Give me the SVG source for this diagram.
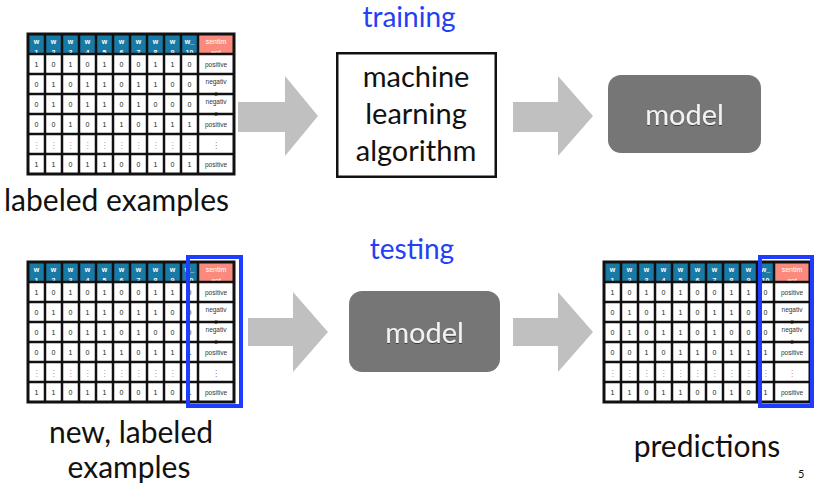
<svg xmlns="http://www.w3.org/2000/svg" width="816" height="488" viewBox="0 0 816 488">
<style>
.bg{fill:#fff}
.hdb{fill:#1a7aa6}
.hds{fill:#f98a7d}
.hd{font-family:"Liberation Sans",Arial,sans-serif;font-size:7px;font-weight:bold;fill:#fff;text-anchor:middle}
.c{font-family:"Liberation Sans",Arial,sans-serif;font-size:7px;fill:#222;text-anchor:middle}
.s{font-family:"Liberation Sans",Arial,sans-serif;font-size:6.5px;fill:#333;text-anchor:middle}
.d{font-family:"DejaVu Sans",sans-serif;font-size:8px;text-anchor:middle;fill:#9a9a9a}
.grid{fill:none;stroke:#111;stroke-width:2.5}
.frame{fill:none;stroke:#111;stroke-width:3}
.lbl{font-family:Lato,"Open Sans",sans-serif;font-size:30px;fill:#111;text-anchor:middle}
.ml{font-family:Lato,"Open Sans",sans-serif;font-size:29px;fill:#111;text-anchor:middle}
.title{font-family:Lato,"Open Sans",sans-serif;font-size:28px;fill:#2340f5;text-anchor:middle}
.arrow{fill:#c0c0c0}
.mbox{fill:#767676}
.mtxt{font-family:Lato,"Open Sans",sans-serif;font-size:29px;fill:#f2f2f2;text-anchor:middle}
.hl{fill:none;stroke:#1f3cff;stroke-width:4}
</style>
<defs>
<filter id="sh" x="-10%" y="-10%" width="120%" height="130%"><feDropShadow dx="0" dy="1" stdDeviation="0.6" flood-color="#000" flood-opacity="0.5"/></filter>
</defs>

<g id="connectors">
<polygon class="arrow" points="238,102 285,102 285,76 318,116 285,156 285,132 238,132"/>
<polygon class="arrow" points="513,102 558,102 558,76 593,116 558,156 558,132 513,132"/>
<polygon class="arrow" points="248,318 293,318 293,292 328,332 293,372 293,346 248,346"/>
<polygon class="arrow" points="513,318 558,318 558,292 593,332 558,372 558,346 513,346"/>
</g>

<g id="training-label"><text class="title" x="409" y="27">training</text></g>
<g id="testing-label"><text class="title" x="412" y="259">testing</text></g>

<g id="labeled-examples">
<rect class="bg" x="28" y="34" width="206" height="140"/>
<rect class="hdb" x="28" y="34" width="170" height="20"/>
<rect class="hds" x="198" y="34" width="36" height="20"/>
<text class="hd" y="44"><tspan x="36.5">w</tspan><tspan x="53.5">w</tspan><tspan x="70.5">w</tspan><tspan x="87.5">w</tspan><tspan x="104.5">w</tspan><tspan x="121.5">w</tspan><tspan x="138.5">w</tspan><tspan x="155.5">w</tspan><tspan x="172.5">w</tspan><tspan x="189.5">w_</tspan></text>
<text class="hd" y="55"><tspan x="36.5">1</tspan><tspan x="53.5">2</tspan><tspan x="70.5">3</tspan><tspan x="87.5">4</tspan><tspan x="104.5">5</tspan><tspan x="121.5">6</tspan><tspan x="138.5">7</tspan><tspan x="155.5">8</tspan><tspan x="172.5">9</tspan><tspan x="189.5">10</tspan></text>
<text class="hd" style="font-weight:normal" x="216" y="44">sentim</text>
<text class="hd" style="font-weight:normal" x="216" y="54.5">ent</text>
<text class="c" y="66.5"><tspan x="36.5">1</tspan><tspan x="53.5">0</tspan><tspan x="70.5">1</tspan><tspan x="87.5">0</tspan><tspan x="104.5">1</tspan><tspan x="121.5">0</tspan><tspan x="138.5">0</tspan><tspan x="155.5">1</tspan><tspan x="172.5">1</tspan><tspan x="189.5">0</tspan></text>
<text class="c" y="86.5"><tspan x="36.5">0</tspan><tspan x="53.5">1</tspan><tspan x="70.5">0</tspan><tspan x="87.5">1</tspan><tspan x="104.5">1</tspan><tspan x="121.5">0</tspan><tspan x="138.5">1</tspan><tspan x="155.5">1</tspan><tspan x="172.5">0</tspan><tspan x="189.5">0</tspan></text>
<text class="c" y="106.5"><tspan x="36.5">0</tspan><tspan x="53.5">1</tspan><tspan x="70.5">0</tspan><tspan x="87.5">1</tspan><tspan x="104.5">1</tspan><tspan x="121.5">0</tspan><tspan x="138.5">1</tspan><tspan x="155.5">0</tspan><tspan x="172.5">0</tspan><tspan x="189.5">0</tspan></text>
<text class="c" y="126.5"><tspan x="36.5">0</tspan><tspan x="53.5">0</tspan><tspan x="70.5">1</tspan><tspan x="87.5">0</tspan><tspan x="104.5">1</tspan><tspan x="121.5">1</tspan><tspan x="138.5">0</tspan><tspan x="155.5">1</tspan><tspan x="172.5">1</tspan><tspan x="189.5">1</tspan></text>
<text class="d" y="147.5"><tspan x="36.5">⋮</tspan><tspan x="53.5" fill="#8a95c8">⋮</tspan><tspan x="70.5" fill="#d98080">⋮</tspan><tspan x="87.5">⋮</tspan><tspan x="104.5">⋮</tspan><tspan x="121.5">⋮</tspan><tspan x="138.5" fill="#8a95c8">⋮</tspan><tspan x="155.5">⋮</tspan><tspan x="172.5">⋮</tspan><tspan x="189.5" fill="#d98080">⋮</tspan><tspan x="216" fill="#777">⋮</tspan></text>
<text class="c" y="166.5"><tspan x="36.5">1</tspan><tspan x="53.5">1</tspan><tspan x="70.5">0</tspan><tspan x="87.5">1</tspan><tspan x="104.5">1</tspan><tspan x="121.5">0</tspan><tspan x="138.5">0</tspan><tspan x="155.5">1</tspan><tspan x="172.5">0</tspan><tspan x="189.5">1</tspan></text>
<text class="s" x="216" y="66.5">positive</text>
<text class="s" x="216" y="83.5">negativ</text>
<text class="s" x="216" y="95.5">e</text>
<text class="s" x="216" y="103.5">negativ</text>
<text class="s" x="216" y="115.5">e</text>
<text class="s" x="216" y="126.5">positive</text>
<text class="s" x="216" y="166.5">positive</text>
<path class="grid" d="M45 34V174M62 34V174M79 34V174M96 34V174M113 34V174M130 34V174M147 34V174M164 34V174M181 34V174M198 34V174M28 54H234M28 74H234M28 94H234M28 114H234M28 134H234M28 154H234"/>
<rect class="frame" x="28" y="34" width="206" height="140"/>
<text class="lbl" x="116.5" y="211">labeled examples</text>
</g>

<g id="ml-algorithm">
<rect x="337.25" y="53.25" width="158.5" height="123.5" fill="#fff" stroke="#111" stroke-width="2.5"/>
<text class="ml" x="416" y="87">machine</text>
<text class="ml" x="416" y="124">learning</text>
<text class="ml" x="416" y="161">algorithm</text>
</g>

<g id="model-train">
<rect class="mbox" x="608" y="75" width="153" height="78" rx="13"/>
<text class="mtxt" x="684.5" y="125" filter="url(#sh)">model</text>
</g>

<g id="new-examples">
<rect class="bg" x="28" y="262" width="206" height="140"/>
<rect class="hdb" x="28" y="262" width="170" height="20"/>
<rect class="hds" x="198" y="262" width="36" height="20"/>
<text class="hd" y="272"><tspan x="36.5">w</tspan><tspan x="53.5">w</tspan><tspan x="70.5">w</tspan><tspan x="87.5">w</tspan><tspan x="104.5">w</tspan><tspan x="121.5">w</tspan><tspan x="138.5">w</tspan><tspan x="155.5">w</tspan><tspan x="172.5">w</tspan><tspan x="189.5">w_</tspan></text>
<text class="hd" y="283"><tspan x="36.5">1</tspan><tspan x="53.5">2</tspan><tspan x="70.5">3</tspan><tspan x="87.5">4</tspan><tspan x="104.5">5</tspan><tspan x="121.5">6</tspan><tspan x="138.5">7</tspan><tspan x="155.5">8</tspan><tspan x="172.5">9</tspan><tspan x="189.5">10</tspan></text>
<text class="hd" style="font-weight:normal" x="216" y="272">sentim</text>
<text class="hd" style="font-weight:normal" x="216" y="282.5">ent</text>
<text class="c" y="294.5"><tspan x="36.5">1</tspan><tspan x="53.5">0</tspan><tspan x="70.5">1</tspan><tspan x="87.5">0</tspan><tspan x="104.5">1</tspan><tspan x="121.5">0</tspan><tspan x="138.5">0</tspan><tspan x="155.5">1</tspan><tspan x="172.5">1</tspan><tspan x="189.5">0</tspan></text>
<text class="c" y="314.5"><tspan x="36.5">0</tspan><tspan x="53.5">1</tspan><tspan x="70.5">0</tspan><tspan x="87.5">1</tspan><tspan x="104.5">1</tspan><tspan x="121.5">0</tspan><tspan x="138.5">1</tspan><tspan x="155.5">1</tspan><tspan x="172.5">0</tspan><tspan x="189.5">0</tspan></text>
<text class="c" y="334.5"><tspan x="36.5">0</tspan><tspan x="53.5">1</tspan><tspan x="70.5">0</tspan><tspan x="87.5">1</tspan><tspan x="104.5">1</tspan><tspan x="121.5">0</tspan><tspan x="138.5">1</tspan><tspan x="155.5">0</tspan><tspan x="172.5">0</tspan><tspan x="189.5">0</tspan></text>
<text class="c" y="354.5"><tspan x="36.5">0</tspan><tspan x="53.5">0</tspan><tspan x="70.5">1</tspan><tspan x="87.5">0</tspan><tspan x="104.5">1</tspan><tspan x="121.5">1</tspan><tspan x="138.5">0</tspan><tspan x="155.5">1</tspan><tspan x="172.5">1</tspan><tspan x="189.5">1</tspan></text>
<text class="d" y="375.5"><tspan x="36.5">⋮</tspan><tspan x="53.5" fill="#8a95c8">⋮</tspan><tspan x="70.5" fill="#d98080">⋮</tspan><tspan x="87.5">⋮</tspan><tspan x="104.5">⋮</tspan><tspan x="121.5">⋮</tspan><tspan x="138.5" fill="#8a95c8">⋮</tspan><tspan x="155.5">⋮</tspan><tspan x="172.5">⋮</tspan><tspan x="189.5" fill="#8a95c8">⋮</tspan><tspan x="216" fill="#777">⋮</tspan></text>
<text class="c" y="394.5"><tspan x="36.5">1</tspan><tspan x="53.5">1</tspan><tspan x="70.5">0</tspan><tspan x="87.5">1</tspan><tspan x="104.5">1</tspan><tspan x="121.5">0</tspan><tspan x="138.5">0</tspan><tspan x="155.5">1</tspan><tspan x="172.5">0</tspan><tspan x="189.5">1</tspan></text>
<text class="s" x="216" y="294.5">positive</text>
<text class="s" x="216" y="311.5">negativ</text>
<text class="s" x="216" y="323.5">e</text>
<text class="s" x="216" y="331.5">negativ</text>
<text class="s" x="216" y="343.5">e</text>
<text class="s" x="216" y="354.5">positive</text>
<text class="s" x="216" y="394.5">positive</text>
<path class="grid" d="M45 262V402M62 262V402M79 262V402M96 262V402M113 262V402M130 262V402M147 262V402M164 262V402M181 262V402M198 262V402M28 282H234M28 302H234M28 322H234M28 342H234M28 362H234M28 382H234"/>
<rect class="frame" x="28" y="262" width="206" height="140"/>
<rect class="hl" x="188" y="257" width="53" height="149"/>
<text class="lbl" x="131" y="443">new, labeled</text>
<text class="lbl" x="129" y="478">examples</text>
</g>

<g id="model-test">
<rect class="mbox" x="349" y="291" width="151" height="81" rx="13"/>
<text class="mtxt" x="424.5" y="343" filter="url(#sh)">model</text>
</g>

<g id="predictions">
<rect class="bg" x="604" y="262" width="206" height="140"/>
<rect class="hdb" x="604" y="262" width="170" height="20"/>
<rect class="hds" x="774" y="262" width="36" height="20"/>
<text class="hd" y="272"><tspan x="612.5">w</tspan><tspan x="629.5">w</tspan><tspan x="646.5">w</tspan><tspan x="663.5">w</tspan><tspan x="680.5">w</tspan><tspan x="697.5">w</tspan><tspan x="714.5">w</tspan><tspan x="731.5">w</tspan><tspan x="748.5">w</tspan><tspan x="765.5">w_</tspan></text>
<text class="hd" y="283"><tspan x="612.5">1</tspan><tspan x="629.5">2</tspan><tspan x="646.5">3</tspan><tspan x="663.5">4</tspan><tspan x="680.5">5</tspan><tspan x="697.5">6</tspan><tspan x="714.5">7</tspan><tspan x="731.5">8</tspan><tspan x="748.5">9</tspan><tspan x="765.5">10</tspan></text>
<text class="hd" style="font-weight:normal" x="792" y="272">sentim</text>
<text class="hd" style="font-weight:normal" x="792" y="282.5">ent</text>
<text class="c" y="294.5"><tspan x="612.5">1</tspan><tspan x="629.5">0</tspan><tspan x="646.5">1</tspan><tspan x="663.5">0</tspan><tspan x="680.5">1</tspan><tspan x="697.5">0</tspan><tspan x="714.5">0</tspan><tspan x="731.5">1</tspan><tspan x="748.5">1</tspan><tspan x="765.5">0</tspan></text>
<text class="c" y="314.5"><tspan x="612.5">0</tspan><tspan x="629.5">1</tspan><tspan x="646.5">0</tspan><tspan x="663.5">1</tspan><tspan x="680.5">1</tspan><tspan x="697.5">0</tspan><tspan x="714.5">1</tspan><tspan x="731.5">1</tspan><tspan x="748.5">0</tspan><tspan x="765.5">0</tspan></text>
<text class="c" y="334.5"><tspan x="612.5">0</tspan><tspan x="629.5">1</tspan><tspan x="646.5">0</tspan><tspan x="663.5">1</tspan><tspan x="680.5">1</tspan><tspan x="697.5">0</tspan><tspan x="714.5">1</tspan><tspan x="731.5">0</tspan><tspan x="748.5">0</tspan><tspan x="765.5">0</tspan></text>
<text class="c" y="354.5"><tspan x="612.5">0</tspan><tspan x="629.5">0</tspan><tspan x="646.5">1</tspan><tspan x="663.5">0</tspan><tspan x="680.5">1</tspan><tspan x="697.5">1</tspan><tspan x="714.5">0</tspan><tspan x="731.5">1</tspan><tspan x="748.5">1</tspan><tspan x="765.5">1</tspan></text>
<text class="d" y="375.5"><tspan x="612.5">⋮</tspan><tspan x="629.5">⋮</tspan><tspan x="646.5" fill="#8a95c8">⋮</tspan><tspan x="663.5">⋮</tspan><tspan x="680.5">⋮</tspan><tspan x="697.5" fill="#d98080">⋮</tspan><tspan x="714.5">⋮</tspan><tspan x="731.5" fill="#8a95c8">⋮</tspan><tspan x="748.5">⋮</tspan><tspan x="765.5">⋮</tspan><tspan x="792" fill="#d98080">⋮</tspan></text>
<text class="c" y="394.5"><tspan x="612.5">1</tspan><tspan x="629.5">1</tspan><tspan x="646.5">0</tspan><tspan x="663.5">1</tspan><tspan x="680.5">1</tspan><tspan x="697.5">0</tspan><tspan x="714.5">0</tspan><tspan x="731.5">1</tspan><tspan x="748.5">0</tspan><tspan x="765.5">1</tspan></text>
<text class="s" x="792" y="294.5">positive</text>
<text class="s" x="792" y="311.5">negativ</text>
<text class="s" x="792" y="323.5">e</text>
<text class="s" x="792" y="331.5">negativ</text>
<text class="s" x="792" y="343.5">e</text>
<text class="s" x="792" y="354.5">positive</text>
<text class="s" x="792" y="394.5">positive</text>
<path class="grid" d="M621 262V402M638 262V402M655 262V402M672 262V402M689 262V402M706 262V402M723 262V402M740 262V402M757 262V402M774 262V402M604 282H810M604 302H810M604 322H810M604 342H810M604 362H810M604 382H810"/>
<rect class="frame" x="604" y="262" width="206" height="140"/>
<rect class="hl" x="760" y="257" width="52" height="149"/>
<text class="lbl" x="707" y="457">predictions</text>
</g>

<g id="page-number"><text x="798" y="478" font-family="Lato,'Open Sans',sans-serif" font-size="11" fill="#111">5</text></g>
</svg>
